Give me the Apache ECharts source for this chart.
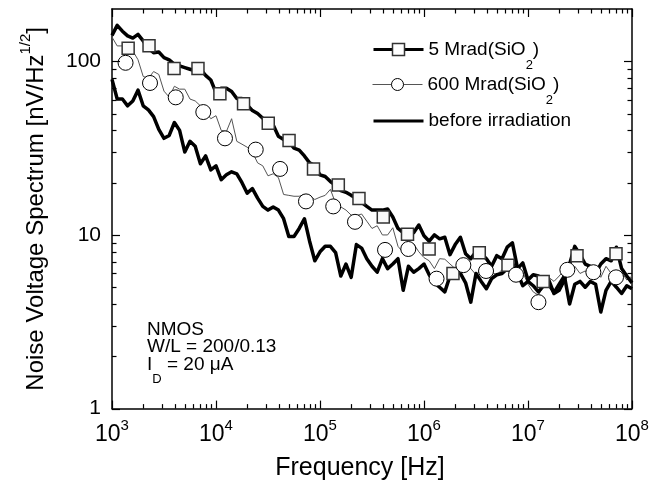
<!DOCTYPE html>
<html><head><meta charset="utf-8">
<script src="https://cdn.jsdelivr.net/npm/echarts@6/dist/echarts.min.js"></script>
<style>html,body{margin:0;padding:0;background:#fff}#c{width:660px;height:486px}</style>
</head><body><div id="c"></div>
<script>
// Sampling frequencies (Hz)
const freq = [1000,1122,1259,1413,1585,1778,1995,2239,2512,2818,
  3162,3548,3981,4467,5012,5623,6310,7079,7943,8913,
  10000,11220,12590,14130,15850,17780,19950,22390,25120,28180,
  31620,35480,39810,44670,50120,56230,63100,70790,79430,89130,
  100000,112200,125900,141300,158500,177800,199500,223900,251200,281800,
  316200,354800,398100,446700,501200,562300,631000,707900,794300,891300,
  1000000,1122000,1259000,1413000,1585000,1778000,1995000,2239000,2512000,2818000,
  3162000,3548000,3981000,4467000,5012000,5623000,6310000,7079000,7943000,8913000,
  10000000,11220000,12590000,14130000,15850000,17780000,19950000,22390000,25120000,28180000,
  31620000,35480000,39810000,44670000,50120000,56230000,63100000,70790000,79430000,89130000,
  100000000];

// 5 Mrad(SiO2) spectrum [nV/Hz^1/2]
const mrad5 = [141,161,149,140,136,143,131,119,112,113,
  105,102,96,94,92,90,88,90,83,78,
  66,70,70,67,61,61,56,52,50,47,
  44,43,37,35.5,34.6,31.6,30.8,28.5,26,25,
  22.2,21.7,20.3,19.3,18,17.6,16.9,16.3,15.4,14.6,
  13.9,13.9,13.9,14.1,12.7,10.9,10.3,10.7,10.3,11.4,
  9.9,9.2,10.0,9.5,9.7,7.7,8.8,9.7,7.8,7.3,
  8.0,7.8,7.3,6.6,7.6,7.3,8.5,9.0,6.4,6.9,
  5.5,5.9,5.8,5.1,5.5,4.6,4.8,5.5,6.8,8.6,
  7.7,6.8,6.6,6.0,6.8,7.3,7.1,8.5,6.4,5.8,
  5.3];

// 600 Mrad(SiO2) spectrum
const mrad600 = [137.8,122.6,122.6,113.3,114.8,102.1,81.8,79.7,87.3,84.0,
  67.3,62.2,71.8,69.1,69.1,60.6,59.1,55.4,51.2,46.7,
  48.6,40.0,39.4,46.7,34.6,33.3,32.0,30.0,26.0,25.0,
  21.9,22.5,21.4,17.1,16.9,16.7,16.7,17.1,16.7,16.0,
  16.5,16.9,18.3,15.2,14.5,13.9,13.0,12.9,13.2,12.0,
  10.9,11.3,10.0,10.0,11.0,8.6,7.9,8.6,8.9,8.0,
  7.4,7.1,6.4,7.3,7.25,6.8,6.4,6.9,7.15,6.4,
  5.9,6.3,6.5,6.1,5.9,6.3,6.6,6.1,5.8,6.1,
  5.2,4.7,4.5,5.1,5.7,5.4,5.8,6.3,6.1,6.6,
  6.0,6.2,5.8,6.3,5.7,6.6,6.0,5.7,6.1,5.5,
  5.8];

// before irradiation spectrum
const before = [78.7,60.6,60.6,55.4,59.1,68.2,55.4,52.5,48.0,40.5,
  36.0,37.4,44.4,40.0,30.0,34.6,32.4,25.7,28.5,23.7,
  25.0,20.8,22.2,23.1,22.5,20.0,17.4,18.5,16.3,14.6,
  13.9,14.5,13.9,12.4,9.8,9.8,10.9,12.4,9.2,7.1,
  8.0,8.6,8.6,7.9,5.8,6.8,5.7,8.8,8.4,7.3,
  6.6,6.1,7.3,6.4,6.8,7.3,4.8,6.6,6.1,6.4,
  6.8,5.9,5.3,5.0,4.7,5.8,6.3,6.0,5.3,4.1,
  6.0,5.4,4.9,5.6,5.9,6.0,6.4,6.9,6.0,5.1,
  5.4,5.1,4.7,5.1,5.2,4.65,5.2,5.8,4.0,5.2,
  5.4,5.0,5.4,5.2,3.6,4.8,5.4,5.0,4.6,5.1,
  4.9];

// Marker points
const sqF = [1430,2270,3950,6710,10900,18400,31800,50400,86600,150000,237000,406000,694000,1120000,1900000,3400000,6420000,14000000,29600000,70200000];
const sqV = [119,123,91,91,65,57,44,35,24,19.4,16.2,12.7,10.1,8.3,6.0,7.9,6.7,5.4,7.6,7.8];
const ciF = [1350,2320,4100,7550,12200,24100,41300,73300,134000,217000,422000,706000,1320000,2390000,3950000,7670000,12600000,23900000,42500000,70200000];
const ciV = [98,75,62,51,36,31,24,15.6,14.6,11.9,8.2,8.3,5.6,6.7,6.2,5.9,4.1,6.3,6.1,5.7];

// Ticks
const xMajor = [1e3,1e4,1e5,1e6,1e7,1e8];
const xMinor = [2e3,3e3,4e3,5e3,6e3,7e3,8e3,9e3,2e4,3e4,4e4,5e4,6e4,7e4,8e4,9e4,
  2e5,3e5,4e5,5e5,6e5,7e5,8e5,9e5,2e6,3e6,4e6,5e6,6e6,7e6,8e6,9e6,2e7,3e7,4e7,5e7,6e7,7e7,8e7,9e7];
const yMajor = [1,10,100];
const yMinor = [2,3,4,5,6,7,8,9,20,30,40,50,60,70,80,90];

const seriesNames = ['5 Mrad(SiO2)','600 Mrad(SiO2)','before irradiation'];

const FONT = '"Liberation Sans", Arial, Helvetica, sans-serif';
const pair = (xs, ys) => xs.map((x, i) => [x, ys[i]]);

const legendText = {fontFamily:FONT, fontSize:19, color:'#000', lineHeight:24,
  rich:{sub:{fontFamily:FONT, fontSize:13, color:'#000', lineHeight:24, padding:[32,0,0,0]}}};
function legendFor(item, top) {
  return {
    orient:'vertical', left:372, top:top, padding:0,
    itemWidth:50, itemHeight:15, selectedMode:false,
    data:[item],
    formatter: n => n.replace('SiO2)', 'SiO{sub|2})'),
    textStyle:legendText
  };
}

const annotation = {
  type:'text', left:147, top:320, silent:true,
  style:{
    text:'NMOS\nW/L = 200/0.13\nI{sub|D} = 20 \u03bcA',
    fontFamily:FONT, fontSize:19, fill:'#000', lineHeight:17.5,
    rich:{sub:{fontFamily:FONT, fontSize:13, fill:'#000', lineHeight:17.5, padding:[30,0,0,0]}}
  }
};

const option = {
  animation:false,
  backgroundColor:'#fff',
  grid:{left:112, right:28, top:9, bottom:71},
  xAxis:[
    {type:'log', logBase:10, min:1e3, max:1e8, position:'bottom', silent:true,
     splitLine:{show:false}, axisTick:{show:false},
     axisLine:{show:true, onZero:false, lineStyle:{color:'#000', width:1.5}},
     axisLabel:{show:true, customValues:xMajor, margin:13,
       formatter: v => '{b|10}{s|' + Math.round(Math.log10(v)) + '}',
       rich:{
         b:{fontFamily:FONT, fontSize:23, color:'#000', lineHeight:26},
         s:{fontFamily:FONT, fontSize:15, color:'#000', lineHeight:26, padding:[0,0,18,0]}
       }},
     name:'Frequency [Hz]', nameLocation:'middle', nameGap:44,
     nameTextStyle:{fontFamily:FONT, fontSize:25, color:'#000', padding:[0,24,0,0]}},
    {type:'log', logBase:10, min:1e3, max:1e8, position:'top', silent:true,
     splitLine:{show:false}, axisTick:{show:false}, axisLabel:{show:false},
     axisLine:{show:true, onZero:false, lineStyle:{color:'#000', width:1.5}}}
  ],
  yAxis:[
    {type:'log', logBase:10, min:1, max:200, position:'left', silent:true,
     splitLine:{show:false}, axisTick:{show:false},
     axisLine:{show:true, onZero:false, lineStyle:{color:'#000', width:1.5}},
     axisLabel:{show:true, customValues:yMajor, margin:11, fontFamily:FONT, fontSize:21, color:'#000'},
     name:'Noise Voltage Spectrum [nV/Hz{sup|1/2}]', nameLocation:'middle', nameGap:62,
     nameTextStyle:{fontFamily:FONT, fontSize:24, color:'#000', lineHeight:28,
       rich:{sup:{fontFamily:FONT, fontSize:15, color:'#000', lineHeight:28, padding:[0,0,20,0]}}}},
    {type:'log', logBase:10, min:1, max:200, position:'right', silent:true,
     splitLine:{show:false}, axisTick:{show:false}, axisLabel:{show:false},
     axisLine:{show:true, onZero:false, lineStyle:{color:'#000', width:1.5}}}
  ],
  legend:[
    legendFor({name:seriesNames[0], lineStyle:{width:3, color:'#000'}, itemStyle:{borderWidth:1.5}}, 27),
    legendFor({name:seriesNames[1], lineStyle:{width:1, color:'#555'}, itemStyle:{borderWidth:1}}, 62),
    legendFor({name:seriesNames[2], lineStyle:{width:3, color:'#000'}, itemStyle:{color:'rgba(0,0,0,0)', borderWidth:0, opacity:0}}, 109)
  ],
  graphic:[annotation],
  series:[
    {type:'line', name:seriesNames[1], data:pair(freq, mrad600), symbol:'circle', showSymbol:false,
     silent:true, lineStyle:{color:'#555', width:1}, itemStyle:{color:'#fff', borderColor:'#000', borderWidth:1}, z:2},
    {type:'line', name:seriesNames[2], data:pair(freq, before), symbol:'none',
     silent:true, lineStyle:{color:'#000', width:3.5, join:'round'}, itemStyle:{color:'#000'}, z:3},
    {type:'line', name:seriesNames[0], data:pair(freq, mrad5), symbol:'rect', showSymbol:false,
     silent:true, lineStyle:{color:'#000', width:3.5, join:'round'}, itemStyle:{color:'#fff', borderColor:'#333', borderWidth:1.5}, z:4},
    {type:'scatter', name:seriesNames[0], data:pair(sqF, sqV), symbol:'rect', symbolSize:12,
     silent:true, itemStyle:{color:'#fafafa', borderColor:'#333', borderWidth:1.5, opacity:1}, z:5},
    {type:'scatter', name:seriesNames[1], data:pair(ciF, ciV), symbol:'circle', symbolSize:15,
     silent:true, itemStyle:{color:'#fff', borderColor:'#000', borderWidth:1, opacity:1}, z:6}
  ]
};
const chart = echarts.init(document.getElementById('c'), null, {renderer:'canvas'});
chart.setOption(option);

// Inward ticks on all four sides, positioned through the axes' own scales
function buildTicks() {
  const els = [];
  const yB = chart.convertToPixel({yAxisIndex:0}, 1);
  const yT = chart.convertToPixel({yAxisIndex:0}, 200);
  const xL = chart.convertToPixel({xAxisIndex:0}, 1e3);
  const xR = chart.convertToPixel({xAxisIndex:0}, 1e8);
  const st = {stroke:'#000', lineWidth:1.2};
  const addX = (v, len) => {
    const x = Math.round(chart.convertToPixel({xAxisIndex:0}, v)) + 0.5;
    els.push({type:'line', silent:true, z:10, shape:{x1:x, y1:yB, x2:x, y2:yB - len}, style:st});
    els.push({type:'line', silent:true, z:10, shape:{x1:x, y1:yT, x2:x, y2:yT + len}, style:st});
  };
  const addY = (v, len) => {
    const y = Math.round(chart.convertToPixel({yAxisIndex:0}, v)) + 0.5;
    els.push({type:'line', silent:true, z:10, shape:{x1:xL, y1:y, x2:xL + len, y2:y}, style:st});
    els.push({type:'line', silent:true, z:10, shape:{x1:xR, y1:y, x2:xR - len, y2:y}, style:st});
  };
  xMajor.forEach(v => addX(v, 8));
  xMinor.forEach(v => addX(v, 4.5));
  yMajor.forEach(v => addY(v, 8));
  yMinor.forEach(v => addY(v, 4.5));
  return els;
}
chart.setOption({graphic:[annotation].concat(buildTicks())}, {replaceMerge:['graphic']});
</script>
</body></html>
